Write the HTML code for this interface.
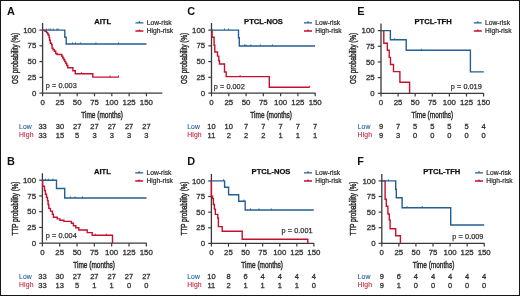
<!DOCTYPE html>
<html><head><meta charset="utf-8"><style>html,body{margin:0;padding:0;background:#fff;width:520px;height:296px;overflow:hidden}</style></head>
<body>
<svg width="520" height="296" viewBox="0 0 520 296" style="display:block;will-change:transform">
<style>
text{font-family:"Liberation Sans",sans-serif;}
.lt{font-weight:bold;font-size:10.9px;fill:#111}
.ti{font-weight:bold;font-size:7.6px;fill:#111;text-anchor:middle;stroke:#111;stroke-width:0.25px}
.lg{font-size:6.7px;fill:#2a2a2a;stroke:#2a2a2a;stroke-width:0.2px}
.tky{font-size:7.85px;fill:#333;text-anchor:end;stroke:#333;stroke-width:0.3px}
.tkx{font-size:7.85px;fill:#333;text-anchor:middle;stroke:#333;stroke-width:0.3px}
.rk{font-size:7.5px;fill:#333;text-anchor:middle;stroke:#333;stroke-width:0.3px}
.al{font-size:9.3px;fill:#333;text-anchor:middle;stroke:#2a2a2a;stroke-width:0.45px}
.pv{font-size:7.3px;word-spacing:0.2px;fill:#333;stroke:#333;stroke-width:0.25px}
.lo{font-size:6.8px;letter-spacing:0.15px;fill:#22609a;stroke:#22609a;stroke-width:0.1px}
.hi{font-size:6.8px;letter-spacing:0.15px;fill:#c8203c;stroke:#c8203c;stroke-width:0.1px}
</style>
<rect x="0" y="0" width="520" height="296" fill="#fff"/>
<rect x="0.5" y="0.5" width="519" height="295" fill="none" stroke="#151515" stroke-width="1"/>
<text class="lt" x="7" y="15.4">A</text>
<text class="ti" x="102.7" y="24">AITL</text>
<path d="M135.4 22.8 H143.4 M139.4 22.8 V21.2" stroke="#245f94" stroke-width="1.3" fill="none"/>
<text class="lg" x="146.7" y="25">Low-risk</text>
<path d="M135.4 31 H143.4 M139.4 31 V29.4" stroke="#c5102e" stroke-width="1.3" fill="none"/>
<text class="lg" x="146.7" y="33.2">High-risk</text>
<path d="M42.6 23.1 V93.1 H162.3" stroke="#3a3a3a" stroke-width="1.3" fill="none"/>
<path d="M39.4 93.1 H42.6" stroke="#3a3a3a" stroke-width="1.2"/>
<text class="tky" x="36.3" y="95.7">0</text>
<path d="M39.4 77.35 H42.6" stroke="#3a3a3a" stroke-width="1.2"/>
<text class="tky" x="36.3" y="79.95">25</text>
<path d="M39.4 61.6 H42.6" stroke="#3a3a3a" stroke-width="1.2"/>
<text class="tky" x="36.3" y="64.2">50</text>
<path d="M39.4 45.85 H42.6" stroke="#3a3a3a" stroke-width="1.2"/>
<text class="tky" x="36.3" y="48.45">75</text>
<path d="M39.4 30.1 H42.6" stroke="#3a3a3a" stroke-width="1.2"/>
<text class="tky" x="36.3" y="32.7">100</text>
<path d="M42.6 93.1 V96.3" stroke="#3a3a3a" stroke-width="1.2"/>
<text class="tkx" x="42.6" y="104.8">0</text>
<text class="rk" x="42.6" y="128.8">33</text>
<text class="rk" x="42.6" y="137.6">33</text>
<path d="M59.9 93.1 V96.3" stroke="#3a3a3a" stroke-width="1.2"/>
<text class="tkx" x="59.9" y="104.8">25</text>
<text class="rk" x="59.9" y="128.8">30</text>
<text class="rk" x="59.9" y="137.6">15</text>
<path d="M77.2 93.1 V96.3" stroke="#3a3a3a" stroke-width="1.2"/>
<text class="tkx" x="77.2" y="104.8">50</text>
<text class="rk" x="77.2" y="128.8">27</text>
<text class="rk" x="77.2" y="137.6">5</text>
<path d="M94.5 93.1 V96.3" stroke="#3a3a3a" stroke-width="1.2"/>
<text class="tkx" x="94.5" y="104.8">75</text>
<text class="rk" x="94.5" y="128.8">27</text>
<text class="rk" x="94.5" y="137.6">3</text>
<path d="M111.8 93.1 V96.3" stroke="#3a3a3a" stroke-width="1.2"/>
<text class="tkx" x="111.8" y="104.8">100</text>
<text class="rk" x="111.8" y="128.8">27</text>
<text class="rk" x="111.8" y="137.6">3</text>
<path d="M129.1 93.1 V96.3" stroke="#3a3a3a" stroke-width="1.2"/>
<text class="tkx" x="129.1" y="104.8">125</text>
<text class="rk" x="129.1" y="128.8">27</text>
<text class="rk" x="129.1" y="137.6">3</text>
<path d="M146.4 93.1 V96.3" stroke="#3a3a3a" stroke-width="1.2"/>
<text class="tkx" x="146.4" y="104.8">150</text>
<text class="rk" x="146.4" y="128.8">27</text>
<text class="rk" x="146.4" y="137.6">3</text>
<path d="M42.6 30.1 H45 V31.2 H46.6 V32.6 H47.6 V33.9 H48.3 V35.3 H49.1 V37.6 H49.6 V40.2 H50.3 V43.2 H51.6 V44.7 H52.1 V48.3 H53.1 V49.8 H54.4 V51.3 H55.7 V53.5 H57 V54.5 H61.8 V56.3 H62.8 V58 H63.8 V59.8 H64.8 V61.6 H65.8 V63.5 H66.8 V65.5 H67.8 V67.7 H72.9 V70.7 H75.3 V73.7 H92.8 V77.1 H118.8" stroke="#c5102e" stroke-width="1.4" fill="none"/>
<path d="M81.6 73.7 V72.1" stroke="#c5102e" stroke-width="0.9"/>
<path d="M110.1 77.1 V75.5" stroke="#c5102e" stroke-width="0.9"/>
<path d="M118.5 77.1 V75.5" stroke="#c5102e" stroke-width="0.9"/>
<path d="M42.6 30.1 H64.8 V37.2 H66.2 V44 H146.5" stroke="#245f94" stroke-width="1.4" fill="none"/>
<path d="M46.6 30.1 V28.5" stroke="#245f94" stroke-width="0.9"/>
<path d="M49 30.1 V28.5" stroke="#245f94" stroke-width="0.9"/>
<path d="M50.8 30.1 V28.5" stroke="#245f94" stroke-width="0.9"/>
<path d="M53.2 30.1 V28.5" stroke="#245f94" stroke-width="0.9"/>
<path d="M56.8 30.1 V28.5" stroke="#245f94" stroke-width="0.9"/>
<path d="M58.2 30.1 V28.5" stroke="#245f94" stroke-width="0.9"/>
<path d="M72.6 44 V42.4" stroke="#245f94" stroke-width="0.9"/>
<path d="M75.5 44 V42.4" stroke="#245f94" stroke-width="0.9"/>
<path d="M80.7 44 V42.4" stroke="#245f94" stroke-width="0.9"/>
<path d="M95.9 44 V42.4" stroke="#245f94" stroke-width="0.9"/>
<path d="M118.5 44 V42.4" stroke="#245f94" stroke-width="0.9"/>
<text class="al" transform="translate(102.1 117.7) scale(0.70 1)">Time (months)</text>
<text class="al" transform="translate(18.4 58.5) rotate(-90) scale(0.68 1)">OS probability (%)</text>
<text class="pv" x="45.7" y="88.2">p = 0.003</text>
<text class="lo" x="19" y="129">Low</text>
<text class="hi" x="19" y="137.3">High</text>
<text class="lt" x="7" y="165.4">B</text>
<text class="ti" x="102.4" y="174">AITL</text>
<path d="M135.2 172.8 H143.2 M139.2 172.8 V171.2" stroke="#245f94" stroke-width="1.3" fill="none"/>
<text class="lg" x="146.5" y="175">Low-risk</text>
<path d="M135.2 181 H143.2 M139.2 181 V179.4" stroke="#c5102e" stroke-width="1.3" fill="none"/>
<text class="lg" x="146.5" y="183.2">High-risk</text>
<path d="M42.4 173.2 V243.2 H146.7" stroke="#3a3a3a" stroke-width="1.3" fill="none"/>
<path d="M39.2 243.2 H42.4" stroke="#3a3a3a" stroke-width="1.2"/>
<text class="tky" x="36.1" y="245.8">0</text>
<path d="M39.2 227.45 H42.4" stroke="#3a3a3a" stroke-width="1.2"/>
<text class="tky" x="36.1" y="230.05">25</text>
<path d="M39.2 211.7 H42.4" stroke="#3a3a3a" stroke-width="1.2"/>
<text class="tky" x="36.1" y="214.3">50</text>
<path d="M39.2 195.95 H42.4" stroke="#3a3a3a" stroke-width="1.2"/>
<text class="tky" x="36.1" y="198.55">75</text>
<path d="M39.2 180.2 H42.4" stroke="#3a3a3a" stroke-width="1.2"/>
<text class="tky" x="36.1" y="182.8">100</text>
<path d="M42.4 243.2 V246.4" stroke="#3a3a3a" stroke-width="1.2"/>
<text class="tkx" x="42.4" y="254.9">0</text>
<text class="rk" x="42.4" y="278.8">33</text>
<text class="rk" x="42.4" y="287.6">33</text>
<path d="M59.72 243.2 V246.4" stroke="#3a3a3a" stroke-width="1.2"/>
<text class="tkx" x="59.72" y="254.9">25</text>
<text class="rk" x="59.72" y="278.8">30</text>
<text class="rk" x="59.72" y="287.6">13</text>
<path d="M77.03 243.2 V246.4" stroke="#3a3a3a" stroke-width="1.2"/>
<text class="tkx" x="77.03" y="254.9">50</text>
<text class="rk" x="77.03" y="278.8">27</text>
<text class="rk" x="77.03" y="287.6">5</text>
<path d="M94.35 243.2 V246.4" stroke="#3a3a3a" stroke-width="1.2"/>
<text class="tkx" x="94.35" y="254.9">75</text>
<text class="rk" x="94.35" y="278.8">27</text>
<text class="rk" x="94.35" y="287.6">1</text>
<path d="M111.67 243.2 V246.4" stroke="#3a3a3a" stroke-width="1.2"/>
<text class="tkx" x="111.67" y="254.9">100</text>
<text class="rk" x="111.67" y="278.8">27</text>
<text class="rk" x="111.67" y="287.6">1</text>
<path d="M128.98 243.2 V246.4" stroke="#3a3a3a" stroke-width="1.2"/>
<text class="tkx" x="128.98" y="254.9">125</text>
<text class="rk" x="128.98" y="278.8">27</text>
<text class="rk" x="128.98" y="287.6">0</text>
<path d="M146.3 243.2 V246.4" stroke="#3a3a3a" stroke-width="1.2"/>
<text class="tkx" x="146.3" y="254.9">150</text>
<text class="rk" x="146.3" y="278.8">27</text>
<text class="rk" x="146.3" y="287.6">0</text>
<path d="M42.4 180.2 H42.7 V186.2 H44.5 V190.5 H45.4 V194.2 H46.5 V197.4 H47.5 V200.6 H48.1 V204.5 H48.8 V208.4 H50.4 V211.1 H52.4 V214.2 H53.4 V217.3 H57.2 V218.9 H59.9 V220.3 H63.9 V221.4 H71.4 V223.2 H73.4 V225.7 H75.8 V227.7 H78.8 V230 H87.2 V232.6 H92.2 V235.3 H112.5 V243.2 H112.5" stroke="#c5102e" stroke-width="1.4" fill="none"/>
<path d="M95.3 235.3 V233.7" stroke="#c5102e" stroke-width="0.9"/>
<path d="M106.4 235.3 V233.7" stroke="#c5102e" stroke-width="0.9"/>
<path d="M42.4 180.2 H56.5 V188.5 H64.7 V198 H146.5" stroke="#245f94" stroke-width="1.4" fill="none"/>
<path d="M45.5 180.2 V178.6" stroke="#245f94" stroke-width="0.9"/>
<path d="M48.3 180.2 V178.6" stroke="#245f94" stroke-width="0.9"/>
<path d="M52.9 180.2 V178.6" stroke="#245f94" stroke-width="0.9"/>
<path d="M70.4 198 V196.4" stroke="#245f94" stroke-width="0.9"/>
<path d="M75.1 198 V196.4" stroke="#245f94" stroke-width="0.9"/>
<path d="M82.5 198 V196.4" stroke="#245f94" stroke-width="0.9"/>
<text class="al" transform="translate(94.1 267.7) scale(0.70 1)">Time (months)</text>
<text class="al" transform="translate(18.4 208.5) rotate(-90) scale(0.68 1)">TTP probability (%)</text>
<text class="pv" x="45.7" y="238.4">p = 0.004</text>
<text class="lo" x="19" y="279">Low</text>
<text class="hi" x="19" y="287.3">High</text>
<text class="lt" x="187.2" y="15.4">C</text>
<text class="ti" x="263.5" y="24">PTCL-NOS</text>
<path d="M304 22.8 H312 M308 22.8 V21.2" stroke="#245f94" stroke-width="1.3" fill="none"/>
<text class="lg" x="315.3" y="25">Low-risk</text>
<path d="M304 31 H312 M308 31 V29.4" stroke="#c5102e" stroke-width="1.3" fill="none"/>
<text class="lg" x="315.3" y="33.2">High-risk</text>
<path d="M211.5 23.1 V93.1 H315.4" stroke="#3a3a3a" stroke-width="1.3" fill="none"/>
<path d="M208.3 93.1 H211.5" stroke="#3a3a3a" stroke-width="1.2"/>
<text class="tky" x="205.2" y="95.7">0</text>
<path d="M208.3 77.35 H211.5" stroke="#3a3a3a" stroke-width="1.2"/>
<text class="tky" x="205.2" y="79.95">25</text>
<path d="M208.3 61.6 H211.5" stroke="#3a3a3a" stroke-width="1.2"/>
<text class="tky" x="205.2" y="64.2">50</text>
<path d="M208.3 45.85 H211.5" stroke="#3a3a3a" stroke-width="1.2"/>
<text class="tky" x="205.2" y="48.45">75</text>
<path d="M208.3 30.1 H211.5" stroke="#3a3a3a" stroke-width="1.2"/>
<text class="tky" x="205.2" y="32.7">100</text>
<path d="M211.5 93.1 V96.3" stroke="#3a3a3a" stroke-width="1.2"/>
<text class="tkx" x="211.5" y="104.8">0</text>
<text class="rk" x="211.5" y="128.8">10</text>
<text class="rk" x="211.5" y="137.6">11</text>
<path d="M228.78 93.1 V96.3" stroke="#3a3a3a" stroke-width="1.2"/>
<text class="tkx" x="228.78" y="104.8">25</text>
<text class="rk" x="228.78" y="128.8">10</text>
<text class="rk" x="228.78" y="137.6">2</text>
<path d="M246.07 93.1 V96.3" stroke="#3a3a3a" stroke-width="1.2"/>
<text class="tkx" x="246.07" y="104.8">50</text>
<text class="rk" x="246.07" y="128.8">7</text>
<text class="rk" x="246.07" y="137.6">2</text>
<path d="M263.35 93.1 V96.3" stroke="#3a3a3a" stroke-width="1.2"/>
<text class="tkx" x="263.35" y="104.8">75</text>
<text class="rk" x="263.35" y="128.8">7</text>
<text class="rk" x="263.35" y="137.6">2</text>
<path d="M280.63 93.1 V96.3" stroke="#3a3a3a" stroke-width="1.2"/>
<text class="tkx" x="280.63" y="104.8">100</text>
<text class="rk" x="280.63" y="128.8">7</text>
<text class="rk" x="280.63" y="137.6">1</text>
<path d="M297.92 93.1 V96.3" stroke="#3a3a3a" stroke-width="1.2"/>
<text class="tkx" x="297.92" y="104.8">125</text>
<text class="rk" x="297.92" y="128.8">7</text>
<text class="rk" x="297.92" y="137.6">1</text>
<path d="M315.2 93.1 V96.3" stroke="#3a3a3a" stroke-width="1.2"/>
<text class="tkx" x="315.2" y="104.8">150</text>
<text class="rk" x="315.2" y="128.8">7</text>
<text class="rk" x="315.2" y="137.6">1</text>
<path d="M211.5 30.1 H212.1 V37.2 H214.1 V45.3 H214.8 V52 H217.5 V56.1 H218.8 V60.8 H219.5 V64 H224.5 V72 H226.2 V76.6 H269.3 V87.2 H309.7" stroke="#c5102e" stroke-width="1.4" fill="none"/>
<path d="M240.1 76.6 V75" stroke="#c5102e" stroke-width="0.9"/>
<path d="M309.7 87.2 V85.6" stroke="#c5102e" stroke-width="0.9"/>
<path d="M211.5 30.1 H238.5 V37.8 H239.3 V46 H315.1" stroke="#245f94" stroke-width="1.4" fill="none"/>
<path d="M224.5 30.1 V28.5" stroke="#245f94" stroke-width="0.9"/>
<path d="M228.5 30.1 V28.5" stroke="#245f94" stroke-width="0.9"/>
<path d="M244.5 46 V44.4" stroke="#245f94" stroke-width="0.9"/>
<path d="M246 46 V44.4" stroke="#245f94" stroke-width="0.9"/>
<path d="M250.8 46 V44.4" stroke="#245f94" stroke-width="0.9"/>
<path d="M260.3 46 V44.4" stroke="#245f94" stroke-width="0.9"/>
<path d="M272.4 46 V44.4" stroke="#245f94" stroke-width="0.9"/>
<text class="al" transform="translate(271.2 117.7) scale(0.70 1)">Time (months)</text>
<text class="al" transform="translate(187 58.5) rotate(-90) scale(0.68 1)">OS probability (%)</text>
<text class="pv" x="213.7" y="89.4">p = 0.002</text>
<text class="lo" x="187.2" y="129">Low</text>
<text class="hi" x="187.2" y="137.3">High</text>
<text class="lt" x="187.2" y="165.4">D</text>
<text class="ti" x="271" y="174">PTCL-NOS</text>
<path d="M304 172.8 H312 M308 172.8 V171.2" stroke="#245f94" stroke-width="1.3" fill="none"/>
<text class="lg" x="315.3" y="175">Low-risk</text>
<path d="M304 181 H312 M308 181 V179.4" stroke="#c5102e" stroke-width="1.3" fill="none"/>
<text class="lg" x="315.3" y="183.2">High-risk</text>
<path d="M211.4 173.9 V243.4 H314.2" stroke="#3a3a3a" stroke-width="1.3" fill="none"/>
<path d="M208.2 243.4 H211.4" stroke="#3a3a3a" stroke-width="1.2"/>
<text class="tky" x="205.1" y="246">0</text>
<path d="M208.2 227.78 H211.4" stroke="#3a3a3a" stroke-width="1.2"/>
<text class="tky" x="205.1" y="230.38">25</text>
<path d="M208.2 212.15 H211.4" stroke="#3a3a3a" stroke-width="1.2"/>
<text class="tky" x="205.1" y="214.75">50</text>
<path d="M208.2 196.53 H211.4" stroke="#3a3a3a" stroke-width="1.2"/>
<text class="tky" x="205.1" y="199.12">75</text>
<path d="M208.2 180.9 H211.4" stroke="#3a3a3a" stroke-width="1.2"/>
<text class="tky" x="205.1" y="183.5">100</text>
<path d="M211.4 243.4 V246.6" stroke="#3a3a3a" stroke-width="1.2"/>
<text class="tkx" x="211.4" y="255.1">0</text>
<text class="rk" x="211.4" y="278.8">10</text>
<text class="rk" x="211.4" y="287.6">11</text>
<path d="M228.48 243.4 V246.6" stroke="#3a3a3a" stroke-width="1.2"/>
<text class="tkx" x="228.48" y="255.1">25</text>
<text class="rk" x="228.48" y="278.8">8</text>
<text class="rk" x="228.48" y="287.6">2</text>
<path d="M245.57 243.4 V246.6" stroke="#3a3a3a" stroke-width="1.2"/>
<text class="tkx" x="245.57" y="255.1">50</text>
<text class="rk" x="245.57" y="278.8">6</text>
<text class="rk" x="245.57" y="287.6">1</text>
<path d="M262.65 243.4 V246.6" stroke="#3a3a3a" stroke-width="1.2"/>
<text class="tkx" x="262.65" y="255.1">75</text>
<text class="rk" x="262.65" y="278.8">4</text>
<text class="rk" x="262.65" y="287.6">1</text>
<path d="M279.73 243.4 V246.6" stroke="#3a3a3a" stroke-width="1.2"/>
<text class="tkx" x="279.73" y="255.1">100</text>
<text class="rk" x="279.73" y="278.8">4</text>
<text class="rk" x="279.73" y="287.6">1</text>
<path d="M296.82 243.4 V246.6" stroke="#3a3a3a" stroke-width="1.2"/>
<text class="tkx" x="296.82" y="255.1">125</text>
<text class="rk" x="296.82" y="278.8">4</text>
<text class="rk" x="296.82" y="287.6">1</text>
<path d="M313.9 243.4 V246.6" stroke="#3a3a3a" stroke-width="1.2"/>
<text class="tkx" x="313.9" y="255.1">150</text>
<text class="rk" x="313.9" y="278.8">4</text>
<text class="rk" x="313.9" y="287.6">0</text>
<path d="M211.4 180.9 H211.4 V196.1 H212.6 V198.6 H213.4 V204.5 H214.4 V209.1 H215.3 V214.4 H217.8 V218.3 H218.4 V226.6 H222.2 V231.2 H242.2 V239.2 H307.8 V243.4 H307.8" stroke="#c5102e" stroke-width="1.4" fill="none"/>
<path d="M211.4 180.9 H224.6 V187.2 H228.6 V194.8 H238.7 V201.2 H245.2 V210 H313.8" stroke="#245f94" stroke-width="1.4" fill="none"/>
<path d="M223.5 180.9 V179.3" stroke="#245f94" stroke-width="0.9"/>
<path d="M243.8 201.2 V199.6" stroke="#245f94" stroke-width="0.9"/>
<path d="M250.5 210 V208.4" stroke="#245f94" stroke-width="0.9"/>
<path d="M258.9 210 V208.4" stroke="#245f94" stroke-width="0.9"/>
<path d="M271.2 210 V208.4" stroke="#245f94" stroke-width="0.9"/>
<text class="al" transform="translate(262.2 267.7) scale(0.70 1)">Time (months)</text>
<text class="al" transform="translate(187 208.5) rotate(-90) scale(0.68 1)">TTP probability (%)</text>
<text class="pv" x="281.5" y="233.1">p = 0.001</text>
<text class="lo" x="187.2" y="279">Low</text>
<text class="hi" x="187.2" y="287.3">High</text>
<text class="lt" x="357.2" y="15.4">E</text>
<text class="ti" x="433.1" y="24">PTCL-TFH</text>
<path d="M473.8 22.8 H481.8 M477.8 22.8 V21.2" stroke="#245f94" stroke-width="1.3" fill="none"/>
<text class="lg" x="485.1" y="25">Low-risk</text>
<path d="M473.8 31 H481.8 M477.8 31 V29.4" stroke="#c5102e" stroke-width="1.3" fill="none"/>
<text class="lg" x="485.1" y="33.2">High-risk</text>
<path d="M381 23.6 V93.3 H483.8" stroke="#3a3a3a" stroke-width="1.3" fill="none"/>
<path d="M377.8 93.3 H381" stroke="#3a3a3a" stroke-width="1.2"/>
<text class="tky" x="374.7" y="95.9">0</text>
<path d="M377.8 77.62 H381" stroke="#3a3a3a" stroke-width="1.2"/>
<text class="tky" x="374.7" y="80.22">25</text>
<path d="M377.8 61.95 H381" stroke="#3a3a3a" stroke-width="1.2"/>
<text class="tky" x="374.7" y="64.55">50</text>
<path d="M377.8 46.27 H381" stroke="#3a3a3a" stroke-width="1.2"/>
<text class="tky" x="374.7" y="48.88">75</text>
<path d="M377.8 30.6 H381" stroke="#3a3a3a" stroke-width="1.2"/>
<text class="tky" x="374.7" y="33.2">100</text>
<path d="M381 93.3 V96.5" stroke="#3a3a3a" stroke-width="1.2"/>
<text class="tkx" x="381" y="105">0</text>
<text class="rk" x="381" y="128.8">9</text>
<text class="rk" x="381" y="137.6">9</text>
<path d="M398.1 93.3 V96.5" stroke="#3a3a3a" stroke-width="1.2"/>
<text class="tkx" x="398.1" y="105">25</text>
<text class="rk" x="398.1" y="128.8">7</text>
<text class="rk" x="398.1" y="137.6">3</text>
<path d="M415.2 93.3 V96.5" stroke="#3a3a3a" stroke-width="1.2"/>
<text class="tkx" x="415.2" y="105">50</text>
<text class="rk" x="415.2" y="128.8">5</text>
<text class="rk" x="415.2" y="137.6">0</text>
<path d="M432.3 93.3 V96.5" stroke="#3a3a3a" stroke-width="1.2"/>
<text class="tkx" x="432.3" y="105">75</text>
<text class="rk" x="432.3" y="128.8">5</text>
<text class="rk" x="432.3" y="137.6">0</text>
<path d="M449.4 93.3 V96.5" stroke="#3a3a3a" stroke-width="1.2"/>
<text class="tkx" x="449.4" y="105">100</text>
<text class="rk" x="449.4" y="128.8">5</text>
<text class="rk" x="449.4" y="137.6">0</text>
<path d="M466.5 93.3 V96.5" stroke="#3a3a3a" stroke-width="1.2"/>
<text class="tkx" x="466.5" y="105">125</text>
<text class="rk" x="466.5" y="128.8">5</text>
<text class="rk" x="466.5" y="137.6">0</text>
<path d="M483.6 93.3 V96.5" stroke="#3a3a3a" stroke-width="1.2"/>
<text class="tkx" x="483.6" y="105">150</text>
<text class="rk" x="483.6" y="128.8">4</text>
<text class="rk" x="483.6" y="137.6">0</text>
<path d="M381 30.6 H383.8 V43.2 H387.3 V50.3 H389.2 V57.4 H390.5 V64.5 H393.5 V71.6 H399.9 V82.2 H409.6 V93.3 H409.6" stroke="#c5102e" stroke-width="1.4" fill="none"/>
<path d="M381 30.6 H390.4 V39.7 H406.2 V50.3 H470.4 V71.9 H483.8" stroke="#245f94" stroke-width="1.4" fill="none"/>
<path d="M394.7 39.7 V38.1" stroke="#245f94" stroke-width="0.9"/>
<path d="M421.3 50.3 V48.7" stroke="#245f94" stroke-width="0.9"/>
<text class="al" transform="translate(432.4 117.7) scale(0.70 1)">Time (months)</text>
<text class="al" transform="translate(355.6 58.5) rotate(-90) scale(0.68 1)">OS probability (%)</text>
<text class="pv" x="450.7" y="89.3">p = 0.019</text>
<text class="lo" x="357.6" y="129">Low</text>
<text class="hi" x="357.6" y="137.3">High</text>
<text class="lt" x="357.2" y="165.4">F</text>
<text class="ti" x="441.8" y="174">PTCL-TFH</text>
<path d="M475 172.8 H483 M479 172.8 V171.2" stroke="#245f94" stroke-width="1.3" fill="none"/>
<text class="lg" x="486.3" y="175">Low-risk</text>
<path d="M475 181 H483 M479 181 V179.4" stroke="#c5102e" stroke-width="1.3" fill="none"/>
<text class="lg" x="486.3" y="183.2">High-risk</text>
<path d="M381.8 173.9 V243.3 H484.6" stroke="#3a3a3a" stroke-width="1.3" fill="none"/>
<path d="M378.6 243.3 H381.8" stroke="#3a3a3a" stroke-width="1.2"/>
<text class="tky" x="375.5" y="245.9">0</text>
<path d="M378.6 227.7 H381.8" stroke="#3a3a3a" stroke-width="1.2"/>
<text class="tky" x="375.5" y="230.3">25</text>
<path d="M378.6 212.1 H381.8" stroke="#3a3a3a" stroke-width="1.2"/>
<text class="tky" x="375.5" y="214.7">50</text>
<path d="M378.6 196.5 H381.8" stroke="#3a3a3a" stroke-width="1.2"/>
<text class="tky" x="375.5" y="199.1">75</text>
<path d="M378.6 180.9 H381.8" stroke="#3a3a3a" stroke-width="1.2"/>
<text class="tky" x="375.5" y="183.5">100</text>
<path d="M381.8 243.3 V246.5" stroke="#3a3a3a" stroke-width="1.2"/>
<text class="tkx" x="381.8" y="255">0</text>
<text class="rk" x="381.8" y="278.8">9</text>
<text class="rk" x="381.8" y="287.6">9</text>
<path d="M398.87 243.3 V246.5" stroke="#3a3a3a" stroke-width="1.2"/>
<text class="tkx" x="398.87" y="255">25</text>
<text class="rk" x="398.87" y="278.8">6</text>
<text class="rk" x="398.87" y="287.6">1</text>
<path d="M415.93 243.3 V246.5" stroke="#3a3a3a" stroke-width="1.2"/>
<text class="tkx" x="415.93" y="255">50</text>
<text class="rk" x="415.93" y="278.8">4</text>
<text class="rk" x="415.93" y="287.6">0</text>
<path d="M433 243.3 V246.5" stroke="#3a3a3a" stroke-width="1.2"/>
<text class="tkx" x="433" y="255">75</text>
<text class="rk" x="433" y="278.8">4</text>
<text class="rk" x="433" y="287.6">0</text>
<path d="M450.07 243.3 V246.5" stroke="#3a3a3a" stroke-width="1.2"/>
<text class="tkx" x="450.07" y="255">100</text>
<text class="rk" x="450.07" y="278.8">4</text>
<text class="rk" x="450.07" y="287.6">0</text>
<path d="M467.13 243.3 V246.5" stroke="#3a3a3a" stroke-width="1.2"/>
<text class="tkx" x="467.13" y="255">125</text>
<text class="rk" x="467.13" y="278.8">4</text>
<text class="rk" x="467.13" y="287.6">0</text>
<path d="M484.2 243.3 V246.5" stroke="#3a3a3a" stroke-width="1.2"/>
<text class="tkx" x="484.2" y="255">150</text>
<text class="rk" x="484.2" y="278.8">4</text>
<text class="rk" x="484.2" y="287.6">0</text>
<path d="M381.8 180.9 H385.1 V199.3 H386.3 V206.2 H387.9 V214 H389.3 V220 H390.1 V228.8 H395.7 V235.8 H400.4 V243.3 H400.4" stroke="#c5102e" stroke-width="1.4" fill="none"/>
<path d="M381.8 180.9 H395.7 V189.2 H396.3 V197.8 H402.1 V207.7 H450.7 V225 H484.2" stroke="#245f94" stroke-width="1.4" fill="none"/>
<path d="M388.6 180.9 V179.3" stroke="#245f94" stroke-width="0.9"/>
<path d="M407.1 207.7 V206.1" stroke="#245f94" stroke-width="0.9"/>
<path d="M422.3 207.7 V206.1" stroke="#245f94" stroke-width="0.9"/>
<text class="al" transform="translate(433.5 267.7) scale(0.70 1)">Time (months)</text>
<text class="al" transform="translate(355.6 208.5) rotate(-90) scale(0.68 1)">TTP probability (%)</text>
<text class="pv" x="452.3" y="239.2">p = 0.009</text>
<text class="lo" x="357.6" y="279">Low</text>
<text class="hi" x="357.6" y="287.3">High</text>
</svg>
</body></html>
